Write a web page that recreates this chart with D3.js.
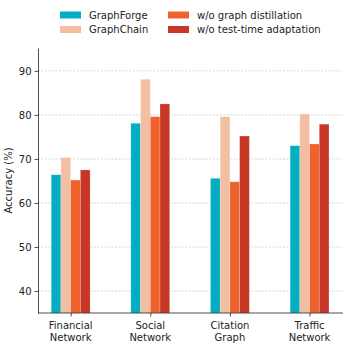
<!DOCTYPE html>
<meta charset="utf-8">
<script src="https://d3js.org/d3.v7.min.js"></script>
<style>
  body { margin: 0; background: #fff; }
  text { font-family: "DejaVu Sans", sans-serif; }
</style>
<div id="chart"></div>
<script>
// data
var categories = [["Financial", "Network"], ["Social", "Network"], ["Citation", "Graph"], ["Traffic", "Network"]];
var seriesNames = ["GraphForge", "GraphChain", "w/o graph distillation", "w/o test-time adaptation"];
var graphForge = [66.4, 78.1, 65.6, 73.0];
var graphChain = [70.3, 88.1, 79.6, 80.2];
var noDistill = [65.2, 79.6, 64.8, 73.4];
var noAdapt = [67.5, 82.5, 75.2, 77.9];
var yTicks = [40, 50, 60, 70, 80, 90];
var colors = ["#03adc2", "#f2bfa2", "#f0622d", "#c83726"];

var series = [graphForge, graphChain, noDistill, noAdapt];

var width = 349, height = 346;
var margin = {top: 48, right: 6, bottom: 33, left: 38};

var svg = d3.select("#chart").append("svg")
    .attr("width", width)
    .attr("height", height);

var x = d3.scaleLinear()
    .domain([-0.41, 3.42])
    .range([margin.left, width - margin.right]);
var y = d3.scaleLinear()
    .domain([35, 95.2])
    .range([height - margin.bottom, margin.top]);

var barW = 0.122;

// grid
svg.append("g").selectAll("line")
    .data(yTicks)
    .enter().append("line")
      .attr("x1", margin.left)
      .attr("x2", width - margin.right)
      .attr("y1", function(d) { return y(d); })
      .attr("y2", function(d) { return y(d); })
      .style("stroke", "#cccccc")
      .style("stroke-width", 0.8)
      .style("stroke-dasharray", "2,1.5");

// bars
series.forEach(function(vals, s) {
  svg.append("g").selectAll("rect")
      .data(vals)
      .enter().append("rect")
        .attr("x", function(d, i) { return x(i + (s - 2) * barW); })
        .attr("width", x(barW) - x(0))
        .attr("y", function(d) { return y(d); })
        .attr("height", function(d) { return y(35) - y(d); })
        .style("fill", colors[s])
        .style("stroke", "#ffffff")
        .style("stroke-opacity", 0.35)
        .style("stroke-width", 0.6);
});

// y axis
var yAxis = svg.append("g")
    .attr("transform", "translate(" + margin.left + ",0)")
    .call(d3.axisLeft(y).tickValues(yTicks).tickSize(3.5).tickPadding(3).tickSizeOuter(0));
yAxis.selectAll("text").style("font-size", "10px").style("fill", "#222");

// x axis
var xAxis = svg.append("g")
    .attr("transform", "translate(0," + (height - margin.bottom) + ")")
    .call(d3.axisBottom(x).tickValues([0, 1, 2, 3]).tickSize(3.5).tickFormat("").tickSizeOuter(0));
xAxis.select(".domain").attr("d", "M" + margin.left + ",0H" + (width - margin.right));

[yAxis, xAxis].forEach(function(a) {
  a.select(".domain").style("stroke", "#222").style("stroke-width", 0.8);
  a.selectAll(".tick line").style("stroke", "#222").style("stroke-width", 0.8);
});

// category labels (two lines)
var lab = svg.append("g").selectAll("text")
    .data(categories)
    .enter().append("text")
      .attr("x", function(d, i) { return x(i); })
      .attr("y", height - margin.bottom + 16)
      .attr("text-anchor", "middle")
      .style("font-size", "10px")
      .style("fill", "#222");
lab.append("tspan").attr("x", function(d, i) { return x(i); }).text(function(d) { return d[0]; });
lab.append("tspan").attr("x", function(d, i) { return x(i); }).attr("dy", "1.2em").text(function(d) { return d[1]; });

// y label
svg.append("text")
    .attr("transform", "translate(12," + ((margin.top + height - margin.bottom) / 2) + ") rotate(-90)")
    .attr("text-anchor", "middle")
    .style("font-size", "10px")
    .style("fill", "#222")
    .text("Accuracy (%)");

// legend
var legPos = [[60, 15], [60, 29.5], [168, 15], [168, 29.5]];
seriesNames.forEach(function(name, s) {
  svg.append("rect")
      .attr("x", legPos[s][0]).attr("y", legPos[s][1] - 3.5)
      .attr("width", 21).attr("height", 7)
      .style("fill", colors[s]);
  svg.append("text")
      .attr("x", legPos[s][0] + 29).attr("y", legPos[s][1])
      .attr("dominant-baseline", "central")
      .style("font-size", "10px")
      .style("fill", "#222")
      .text(name);
});
</script>
